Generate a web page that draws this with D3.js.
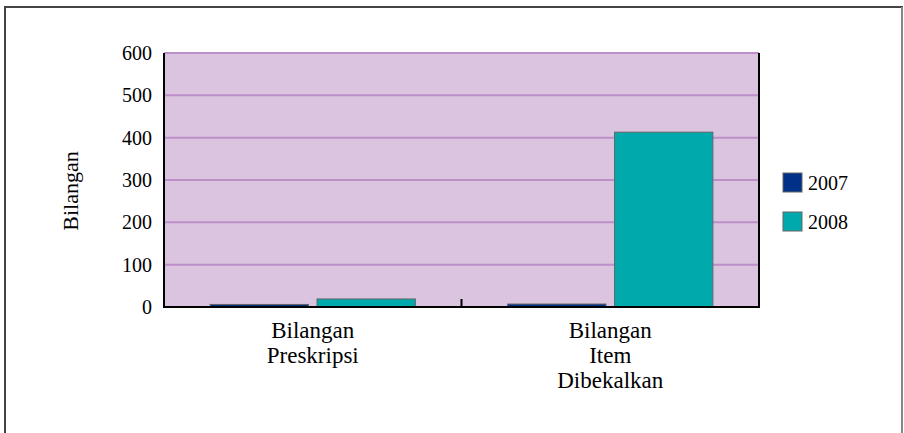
<!DOCTYPE html>
<html>
<head>
<meta charset="utf-8">
<script src="https://cdn.jsdelivr.net/npm/d3@7"></script>
<style>
  body { margin: 0; background: #fff; }
</style>
</head>
<body>
<div id="chart"></div>
<script>
// data
var categories = [["Bilangan", "Preskripsi"], ["Bilangan", "Item", "Dibekalkan"]];
var seriesNames = ["2007", "2008"];
var values2007 = [6, 7];
var values2008 = [19, 413];
var yTicks = [0, 100, 200, 300, 400, 500, 600];

var colors = ["#003087", "#00a9ac"];
var serif = "'Liberation Serif', 'Times New Roman', Times, 'DejaVu Serif', serif";

var width = 904, height = 433;
var plot = { left: 164, right: 759, top: 53, bottom: 307 };

var svg = d3.select("#chart").append("svg")
    .attr("width", width)
    .attr("height", height)
    .attr("font-family", serif);

// outer frame
svg.append("rect")
    .attr("x", 5).attr("y", 7)
    .attr("width", 897).attr("height", 440)
    .attr("fill", "none")
    .attr("stroke", "#444")
    .attr("stroke-width", 2);
svg.append("line")
    .attr("x1", 902).attr("x2", 902).attr("y1", 7).attr("y2", height)
    .attr("stroke", "#888").attr("stroke-width", 2);

var y = d3.scaleLinear().domain([0, 600]).range([plot.bottom, plot.top]);
var x0 = d3.scaleBand()
    .domain(d3.range(categories.length))
    .range([plot.left, plot.right])
    .paddingInner(0.31)
    .paddingOuter(0.155);
var x1 = d3.scaleBand()
    .domain(seriesNames)
    .range([0, x0.bandwidth()])
    .paddingInner(0.08);

// plot background
svg.append("rect")
    .attr("x", plot.left).attr("y", plot.top)
    .attr("width", plot.right - plot.left)
    .attr("height", plot.bottom - plot.top)
    .attr("fill", "#dac4e0");

// gridlines
svg.selectAll(".grid")
    .data(yTicks.filter(function (d) { return d > 0; }))
    .enter().append("line")
    .attr("class", "grid")
    .attr("x1", plot.left).attr("x2", plot.right)
    .attr("y1", function (d) { return y(d); })
    .attr("y2", function (d) { return y(d); })
    .attr("stroke", "#bc8fc8")
    .attr("stroke-width", 2);

// bars
var rows = categories.map(function (c, i) {
    return [{ s: "2007", v: values2007[i] }, { s: "2008", v: values2008[i] }];
});
var group = svg.selectAll(".grp")
    .data(rows)
    .enter().append("g")
    .attr("transform", function (d, i) { return "translate(" + x0(i) + ",0)"; });

group.selectAll("rect")
    .data(function (d) { return d; })
    .enter().append("rect")
    .attr("x", function (d) { return x1(d.s); })
    .attr("y", function (d) { return y(d.v); })
    .attr("width", x1.bandwidth())
    .attr("height", function (d) { return y(0) - y(d.v); })
    .attr("fill", function (d, i) { return colors[i]; })
    .attr("stroke", "#666")
    .attr("stroke-width", 1);

// axes frame lines
svg.append("line")
    .attr("x1", plot.left).attr("x2", plot.left)
    .attr("y1", plot.top).attr("y2", plot.bottom)
    .attr("stroke", "#000").attr("stroke-width", 2);
svg.append("line")
    .attr("x1", plot.right).attr("x2", plot.right)
    .attr("y1", plot.top).attr("y2", plot.bottom)
    .attr("stroke", "#000").attr("stroke-width", 2);
svg.append("line")
    .attr("x1", plot.left - 1).attr("x2", plot.right + 1)
    .attr("y1", plot.bottom).attr("y2", plot.bottom)
    .attr("stroke", "#000").attr("stroke-width", 2);

// category separator tick
svg.append("line")
    .attr("x1", (plot.left + plot.right) / 2).attr("x2", (plot.left + plot.right) / 2)
    .attr("y1", plot.bottom - 8).attr("y2", plot.bottom)
    .attr("stroke", "#000").attr("stroke-width", 2);

// y tick labels
svg.selectAll(".ylab")
    .data(yTicks)
    .enter().append("text")
    .attr("class", "ylab")
    .attr("x", 152)
    .attr("y", function (d) { return y(d); })
    .attr("dy", "0.35em")
    .attr("text-anchor", "end")
    .style("font-size", "20px")
    .text(function (d) { return d; });

// y axis title
svg.append("text")
    .attr("transform", "translate(78," + 191 + ") rotate(-90)")
    .attr("text-anchor", "middle")
    .style("font-size", "22px")
    .text("Bilangan");

// category labels
categories.forEach(function (lines, i) {
    var cx = x0(i) + x0.bandwidth() / 2;
    var t = svg.append("text")
        .attr("text-anchor", "middle")
        .style("font-size", "23px");
    lines.forEach(function (l, j) {
        t.append("tspan")
            .attr("x", cx)
            .attr("y", 338 + j * 25)
            .text(l);
    });
});

// legend
var legend = svg.selectAll(".leg")
    .data(seriesNames)
    .enter().append("g")
    .attr("transform", function (d, i) { return "translate(783," + (173 + i * 39) + ")"; });
legend.append("rect")
    .attr("width", 19).attr("height", 19)
    .attr("fill", function (d, i) { return colors[i]; })
    .attr("stroke", "#666");
legend.append("text")
    .attr("x", 25).attr("y", 10)
    .attr("dy", "0.35em")
    .style("font-size", "20px")
    .text(function (d) { return d; });
</script>
</body>
</html>
